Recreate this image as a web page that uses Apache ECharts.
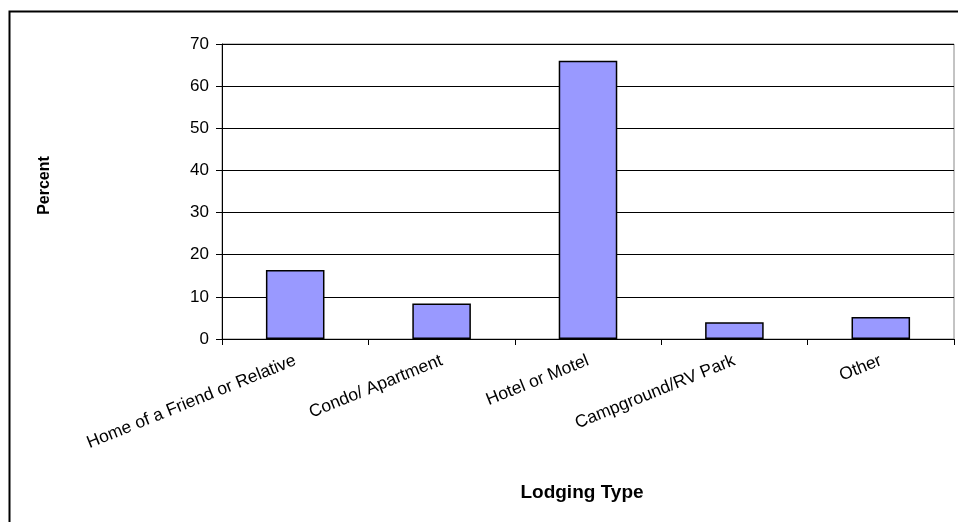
<!DOCTYPE html>
<html>
<head>
<meta charset="utf-8">
<script src="https://cdn.jsdelivr.net/npm/echarts@6/dist/echarts.min.js"></script>
<style>html,body{margin:0;padding:0;background:#fff}#c{width:958px;height:522px}</style>
</head>
<body>
<div id="c"></div>
<script>
const categories = ["Home of a Friend or Relative", "Condo/ Apartment", "Hotel or Motel", "Campground/RV Park", "Other"];
const percentValues = [16.4, 8.4, 66.0, 4.0, 5.2];
const yTicks = [0, 10, 20, 30, 40, 50, 60, 70];

const chart = echarts.init(document.getElementById('c'), null, {renderer: 'canvas'});
chart.setOption({
  animation: false,
  backgroundColor: '#fff',
  graphic: [{
    type: 'rect', left: 7, top: 9, silent: true,
    shape: {x: 0, y: 0, width: 1000, height: 1000},
    style: {fill: 'none', stroke: '#000', lineWidth: 2}
  }],
  grid: {left: 222, right: 4, top: 44, bottom: 183, show: true, borderColor: '#888', borderWidth: 1, backgroundColor: 'transparent'},
  xAxis: {
    type: 'category',
    data: categories,
    name: 'Lodging Type',
    nameLocation: 'middle',
    nameGap: 144,
    nameTextStyle: {fontFamily: 'Liberation Sans, Arial', fontWeight: 'bold', fontSize: 19, color: '#000', padding: [0, 12, 0, 0]},
    axisLine: {lineStyle: {color: '#000', width: 1}},
    axisTick: {show: true, alignWithLabel: false, length: 6, lineStyle: {color: '#000'}},
    axisLabel: {rotate: 22, interval: 0, fontFamily: 'Liberation Sans, Arial', fontSize: 17.5, color: '#000', margin: 21}
  },
  yAxis: {
    type: 'value',
    min: 0, max: 70, interval: 10,
    name: 'Percent',
    nameLocation: 'middle',
    nameGap: 169,
    nameRotate: 90,
    nameTextStyle: {fontFamily: 'Liberation Sans, Arial', fontWeight: 'bold', fontSize: 16, color: '#000', padding: [0, 0, 0, 12]},
    axisLine: {show: true, lineStyle: {color: '#000', width: 1}},
    axisTick: {show: true, length: 6, lineStyle: {color: '#000'}},
    axisLabel: {fontFamily: 'Liberation Sans, Arial', fontSize: 17, color: '#000', margin: 13,
      formatter: v => yTicks.includes(v) ? String(v) : ''},
    splitLine: {show: true, lineStyle: {color: '#000', width: 1}}
  },
  series: [{
    type: 'bar',
    data: percentValues,
    barWidth: '40%',
    itemStyle: {color: '#9999FF', borderColor: '#000', borderWidth: 1.5}
  }]
});
</script>
</body>
</html>
